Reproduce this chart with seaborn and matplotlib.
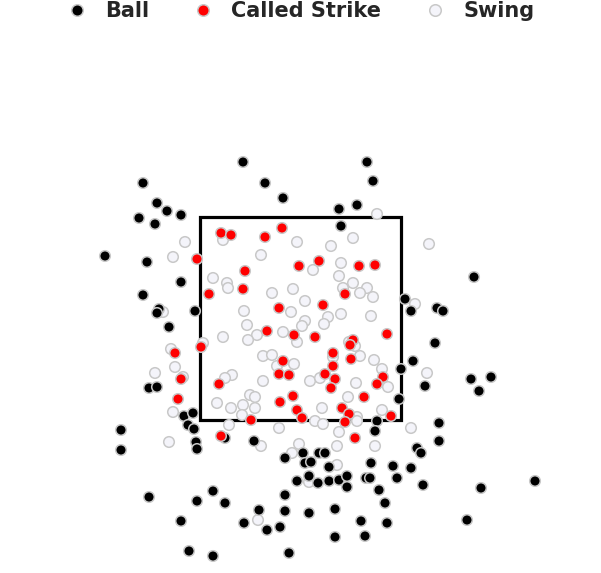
import pandas as pd
import matplotlib
matplotlib.use("Agg")
import matplotlib.pyplot as plt
from matplotlib.patches import Rectangle
import seaborn as sns

# pitch locations (inches from plate centre, height in inches)
ball_x = [-5.7, -15.7, -3.5, -1.7, -14.3, -13.3, -11.9, -16.1, -14.5, -19.5,
          -15.3, -11.9, 6.7, 7.3, 3.9, 5.7, 4.1, 17.4, -15.7, -14.1,
          -14.3, -13.1, -10.5, -15.1, -14.3, -11.6, -10.7, -11.2, -10.6, -10.4,
          -10.3, -7.5, -4.6, -17.9, -17.9, 10.5, 11.1, 13.7, 14.3, 13.5,
          11.3, 10.1, 17.1, 19.1, 17.9, 12.5, 9.9, 7.7, 7.5, 13.9,
          13.9, -1.5, 0.3, 0.5, 1.1, 1.9, 2.5, 2.9, 0.9, -0.3,
          1.8, 2.9, 3.9, 4.7, 4.7, -1.5, -15.1, -10.3, -8.7, -7.5,
          -4.1, -1.5, 0.9, -11.9, -5.6, -3.3, -2.0, -11.1, -8.7, -1.1,
          11.7, 12.1, 7.1, 9.3, 11.1, 6.6, 7.0, 9.7, 12.3, 7.9,
          18.1, 23.5, 8.5, 3.5, 6.1, 8.7, 16.7, 3.5, 6.5]
ball_z = [44.8, 42.7, 42.7, 41.2, 40.7, 39.9, 39.5, 39.2, 38.6, 35.4,
          34.8, 32.8, 44.8, 42.9, 40.1, 40.5, 38.4, 33.3, 31.5, 30.1,
          29.7, 28.3, 29.9, 22.2, 22.3, 19.4, 19.7, 18.5, 18.1, 16.8,
          16.1, 17.2, 16.9, 18.0, 16.0, 31.1, 29.9, 30.2, 29.9, 26.7,
          24.9, 24.1, 23.1, 23.3, 21.9, 22.4, 21.1, 18.9, 17.9, 18.7,
          16.9, 15.2, 15.7, 14.7, 14.8, 15.7, 15.7, 14.3, 13.4, 12.9,
          12.7, 12.9, 13.0, 13.4, 12.3, 11.5, 11.3, 10.9, 11.9, 10.7,
          10.0, 9.9, 9.7, 8.9, 8.7, 8.0, 8.3, 5.9, 5.4, 5.7,
          16.2, 15.7, 14.7, 14.4, 14.2, 13.2, 13.2, 13.2, 12.5, 12.0,
          12.2, 12.9, 10.7, 10.1, 8.9, 8.7, 9.0, 7.3, 7.4]

strike_x = [-7.9, -6.9, -3.5, -1.8, -10.3, -5.5, -0.1, 1.9, -5.7, 5.9,
            7.5, 4.5, -9.1, -2.1, 2.3, -3.3, -0.6, 1.5, -12.5, -9.9,
            -1.7, -2.1, -1.1, -11.9, -8.1, -0.7, -2.0, -12.2, -0.3, -4.9,
            0.2, 8.7, 5.3, 5.0, 3.3, 5.1, 3.3, 2.5, 3.5, 8.3,
            7.7, 3.1, 6.4, 4.2, 4.9, 9.1, -7.9, 4.5, 5.5]
strike_z = [37.7, 37.5, 37.3, 38.2, 35.1, 33.9, 34.4, 34.9, 32.1, 34.4,
            34.5, 31.6, 31.6, 30.2, 30.5, 27.9, 27.5, 27.3, 25.7, 26.3,
            24.9, 23.6, 23.5, 23.1, 22.6, 21.4, 20.8, 21.1, 20.0, 19.0,
            19.2, 27.6, 27.0, 26.5, 25.7, 25.1, 24.4, 23.6, 23.1, 23.3,
            22.6, 22.2, 21.3, 20.2, 19.6, 19.4, 17.4, 18.8, 17.2]

swing_x = [-7.7, -11.5, -0.3, -12.7, -3.9, 1.3, -8.7, -7.3, -7.2, -2.8,
           -0.7, 7.7, 5.3, 3.1, 12.9, 4.1, 3.9, 5.3, 6.7, 4.3,
           6.0, 7.3, 0.5, -13.7, -5.6, -0.9, 0.5, 0.2, -5.3, -1.7,
           -4.3, -5.2, -0.3, -7.7, -9.7, -12.9, -3.7, -2.8, -0.6, -12.5,
           -2.3, -14.5, -6.8, -7.5, -3.7, 1.0, 2.0, -5.0, -4.5, -8.3,
           -5.7, -4.5, -6.9, -12.7, -5.8, 2.2, -11.7, 11.5, 2.8, 4.1,
           7.1, 2.4, 4.9, 5.5, 3.3, 6.0, 7.4, 8.2, 12.7, 8.8,
           5.6, 4.8, 8.2, 5.7, -13.1, -7.1, -2.1, -3.9, -0.1, -0.8,
           -4.2, 0.9, 1.5, 2.3, 3.9, 5.7, 11.1, 3.7, 7.5, 3.7]
swing_z = [37.0, 36.8, 36.8, 35.3, 35.5, 34.0, 33.2, 32.7, 32.2, 31.7,
           32.1, 39.6, 37.2, 36.4, 36.6, 34.7, 33.4, 32.7, 32.2, 32.2,
           31.7, 31.3, 30.9, 29.8, 29.9, 29.8, 28.9, 28.4, 28.5, 27.8,
           27.5, 27.0, 26.8, 27.3, 26.7, 26.1, 25.4, 25.5, 24.6, 24.3,
           24.4, 23.7, 23.5, 23.2, 22.9, 22.9, 23.2, 21.5, 21.3, 20.7,
           20.5, 20.2, 20.2, 19.8, 19.5, 20.2, 23.3, 30.6, 29.3, 29.6,
           29.4, 28.6, 26.8, 26.4, 25.3, 25.4, 25.0, 24.1, 23.7, 22.3,
           22.7, 21.3, 20.0, 19.3, 16.8, 18.5, 18.2, 16.4, 16.6, 15.7,
           9.0, 12.8, 18.9, 18.6, 17.8, 18.9, 18.2, 16.4, 16.4, 14.5]

# strike zone edges (inches)
zone_left, zone_right = -10.0, 10.1
zone_bottom, zone_top = 19.0, 39.3

# swings drawn first, then balls, then called strikes on top
df = pd.concat([
    pd.DataFrame({"x": swing_x, "z": swing_z, "result": "Swing"}),
    pd.DataFrame({"x": ball_x, "z": ball_z, "result": "Ball"}),
    pd.DataFrame({"x": strike_x, "z": strike_z, "result": "Called Strike"}),
], ignore_index=True)

palette = {"Ball": "#000000", "Called Strike": "#ff0000", "Swing": "#f4f4fa"}
order = ["Ball", "Called Strike", "Swing"]

sns.set_style("white")
plt.rcParams["font.family"] = ["DejaVu Sans"]

fig = plt.figure(figsize=(6.01, 5.73), dpi=100)
ax = fig.add_axes([0, 0, 1, 1])

ax.add_patch(Rectangle((zone_left, zone_bottom), zone_right - zone_left,
                       zone_top - zone_bottom, fill=False, edgecolor="black",
                       linewidth=2.3, joinstyle="miter", zorder=1))

sns.scatterplot(data=df, x="x", y="z", hue="result", hue_order=order,
                palette=palette, s=58, edgecolor="#c8c8c8", linewidth=1.1,
                ax=ax, zorder=2)

ax.set_xlim(-30.0, 30.1)
ax.set_ylim(3.7, 61.0)
ax.set_axis_off()

sns.move_legend(ax, "upper center", bbox_to_anchor=(0.5, 1.003), ncol=3,
                frameon=False, title=None, borderaxespad=0, borderpad=0.15,
                handlelength=1.0, handletextpad=0.85, columnspacing=2.1,
                prop={"weight": "bold", "size": 15})
for h in ax.get_legend().legend_handles:
    h.set_markersize(8.3)
    h.set_markeredgewidth(1.1)
    h.set_markeredgecolor("#c8c8c8")

fig.savefig("out.png", dpi=100)
